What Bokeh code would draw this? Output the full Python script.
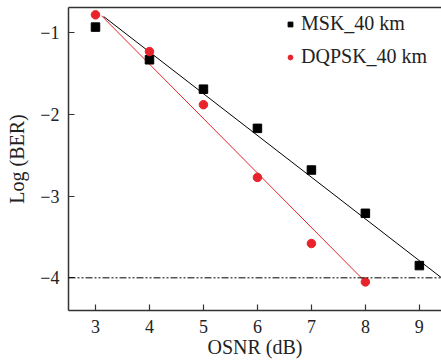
from bokeh.plotting import figure
from bokeh.models import Span, Legend, LegendItem, FixedTicker, LinearAxis
from bokeh.embed import file_html
from bokeh.resources import INLINE

osnr = [3, 4, 5, 6, 7, 8, 9]
msk_ber = [-0.93, -1.33, -1.69, -2.17, -2.68, -3.21, -3.85]
osnr_dq = [3, 4, 5, 6, 7, 8]
dqpsk_ber = [-0.78, -1.23, -1.88, -2.77, -3.58, -4.05]
msk_fit_x = [3.15, 9.45]
msk_fit_y = [-0.80, -4.02]
dq_fit_x = [3.11, 8.0]
dq_fit_y = [-0.79, -4.05]
x_ticks = [3, 4, 5, 6, 7, 8, 9]
y_ticks = [-1, -2, -3, -4]
y_tick_labels = ["\u22121", "\u22122", "\u22123", "\u22124"]
threshold = -4

FONT = "Liberation Serif"
RED = "#e8232b"
AX = "#333333"
TXT = "#222222"

p = figure(width=441, height=364, output_backend="svg", toolbar_location=None,
           x_range=(2.5, 9.41), y_range=(-4.40, -0.69),
           min_border_left=68, min_border_right=0, min_border_top=7, min_border_bottom=54)
p.grid.visible = False
p.outline_line_color = None
xa = p.below[0]
ya = p.left[0]

top = LinearAxis(ticker=FixedTicker(ticks=[]), major_label_text_font_size="0px",
                 axis_line_color=AX, axis_line_width=1.5, major_tick_line_color=None,
                 minor_tick_line_color=None, major_tick_in=0, major_tick_out=0,
                 major_label_standoff=0)
p.add_layout(top, "above")

p.line(msk_fit_x, msk_fit_y, line_color="black", line_width=1)
p.line(dq_fit_x, dq_fit_y, line_color=RED, line_width=1)
p.add_layout(Span(location=threshold, dimension="width", line_color="black",
                  line_width=1, line_dash="7 2 2 2 2 2"))
r1 = p.scatter(osnr, msk_ber, marker="square", size=8.5, color="black")
r2 = p.scatter(osnr_dq, dqpsk_ber, marker="circle", size=8.5, color=RED)

legend = Legend(items=[LegendItem(label="MSK_40 km", renderers=[r1]),
                       LegendItem(label="DQPSK_40 km", renderers=[r2])],
                location=(216, 242), border_line_color=None,
                background_fill_alpha=0, label_text_font=FONT,
                label_text_font_size="20px", label_text_color=TXT,
                glyph_width=12, glyph_height=20, label_height=20,
                spacing=10, margin=0, padding=0, label_standoff=5)
p.add_layout(legend)

for ax in (xa, ya):
    ax.axis_line_color = AX
    ax.axis_line_width = 1.5
    ax.major_tick_line_color = AX
    ax.major_tick_line_width = 1.2
    ax.major_tick_in = 6
    ax.major_tick_out = 0
    ax.minor_tick_line_color = None
    ax.major_label_text_font = FONT
    ax.major_label_text_font_size = "18px"
    ax.major_label_text_color = TXT
    ax.axis_label_text_font = FONT
    ax.axis_label_text_font_size = "20px"
    ax.axis_label_text_font_style = "normal"
    ax.axis_label_text_color = TXT

xa.ticker = FixedTicker(ticks=x_ticks)
ya.ticker = FixedTicker(ticks=y_ticks)
ya.major_label_overrides = {t: l for t, l in zip(y_ticks, y_tick_labels)}
xa.axis_label = "OSNR (dB)"
ya.axis_label = "Log (BER)"
xa.major_label_standoff = 9
xa.axis_label_standoff = 0
ya.major_label_standoff = 9
ya.axis_label_standoff = 9

open("out.html", "w").write(file_html(p, INLINE))
